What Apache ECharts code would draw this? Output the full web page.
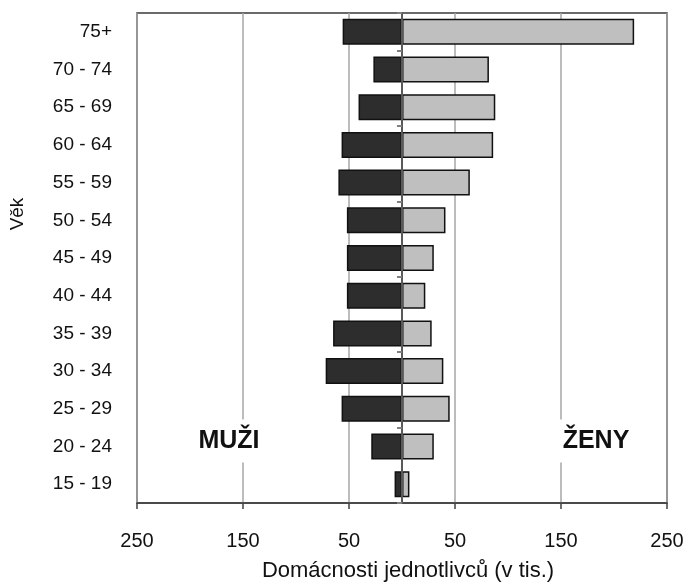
<!DOCTYPE html>
<html>
<head>
<meta charset="utf-8">
<script src="https://cdn.jsdelivr.net/npm/echarts@6/dist/echarts.min.js"></script>
<style>
html,body{margin:0;padding:0;background:#fff;}
#c{width:687px;height:584px;}
</style>
</head>
<body>
<div id="c"></div>
<script>
// Age groups, bottom to top
const categories = ['15 - 19','20 - 24','25 - 29','30 - 34','35 - 39','40 - 44','45 - 49','50 - 54','55 - 59','60 - 64','65 - 69','70 - 74','75+'];
// Single-person households, thousands
const men   = [7, 29, 57, 72, 65, 52, 52, 52, 60, 57, 41, 27, 56];
const women = [7, 30, 45, 39, 28, 22, 30, 41, 64, 86, 88, 82, 219];
const xTicks = { min: -250, max: 250, step: 100 };
const xTitle = 'Domácnosti jednotlivců (v tis.)';
const yTitle = 'Věk';
const menLabel = 'MUŽI';
const womenLabel = 'ŽENY';

const FONT = 'Liberation Sans, Arial, sans-serif';
const chart = echarts.init(document.getElementById('c'), null, {renderer: 'canvas'});

chart.setOption({
  animation: false,
  backgroundColor: '#ffffff',
  grid: {
    left: 137, right: 20, top: 13, bottom: 81,
    outerBoundsMode: 'none',
    containLabel: false,
    show: true, borderColor: '#3a3a3a', borderWidth: 1.5, backgroundColor: 'transparent'
  },
  xAxis: {
    type: 'value',
    min: xTicks.min, max: xTicks.max, interval: xTicks.step,
    axisLine: {show: true, onZero: false, lineStyle: {color: '#404040', width: 1.5}},
    axisTick: {show: true, length: 6, lineStyle: {color: '#404040', width: 1.5}},
    axisLabel: {
      formatter: v => String(Math.abs(v)),
      fontSize: 20, fontFamily: FONT, color: '#111', margin: 28
    },
    splitLine: {show: true, lineStyle: {color: '#a6a6a6', width: 1.5}},
    name: xTitle,
    nameLocation: 'middle',
    nameGap: 57,
    nameTextStyle: {fontSize: 22, fontFamily: FONT, color: '#111', padding: [0, 0, 0, 12]}
  },
  yAxis: [
    {
      type: 'category',
      data: categories,
      position: 'left',
      axisLine: {show: false, onZero: false},
      axisTick: {show: false},
      axisLabel: {fontSize: 19, fontFamily: FONT, color: '#111', margin: 25},
      splitLine: {show: false}
    },
    {
      type: 'category',
      data: categories,
      position: 'left',
      z: 10,
      axisLine: {show: true, onZero: true, lineStyle: {color: '#595959', width: 2}},
      axisTick: {show: true, interval: 1, length: 5, inside: false, lineStyle: {color: '#808080', width: 2}},
      axisLabel: {show: false},
      splitLine: {show: false}
    }
  ],
  series: [
    {
      name: menLabel,
      type: 'bar',
      stack: 'pyr',
      yAxisIndex: 0,
      barCategoryGap: '31%',
      data: men.map(v => -v),
      itemStyle: {color: '#2d2d2d', borderColor: '#111111', borderWidth: 1.5}
    },
    {
      name: womenLabel,
      type: 'bar',
      stack: 'pyr',
      yAxisIndex: 0,
      barCategoryGap: '31%',
      data: women,
      itemStyle: {color: '#bfbfbf', borderColor: '#111111', borderWidth: 1.5}
    }
  ],
  graphic: [
    {
      type: 'text', x: 229, y: 441, z: 20,
      style: {
        text: menLabel, fontSize: 25, fontWeight: 'bold', fontFamily: FONT, fill: '#111',
        align: 'center', verticalAlign: 'middle', backgroundColor: '#fff', padding: [9, 4, 9, 4]
      }
    },
    {
      type: 'text', x: 596, y: 441, z: 20,
      style: {
        text: womenLabel, fontSize: 25, fontWeight: 'bold', fontFamily: FONT, fill: '#111',
        align: 'center', verticalAlign: 'middle', backgroundColor: '#fff', padding: [9, 4, 9, 4]
      }
    },
    {
      type: 'text', x: 18, y: 214, rotation: Math.PI / 2, z: 20,
      style: {
        text: yTitle, fontSize: 19, fontFamily: FONT, fill: '#111',
        align: 'center', verticalAlign: 'middle'
      }
    }
  ]
});
</script>
</body>
</html>
